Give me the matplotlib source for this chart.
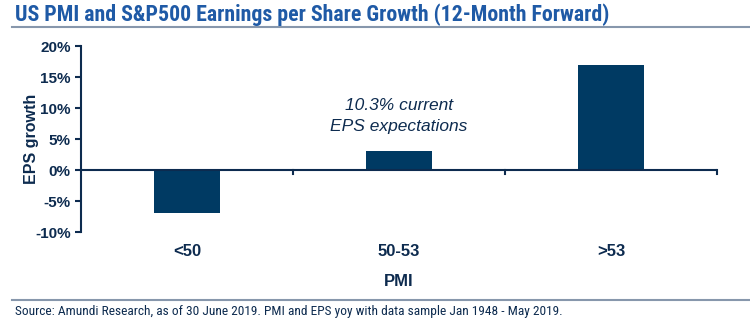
import matplotlib.pyplot as plt
from matplotlib.lines import Line2D
from matplotlib.ticker import FuncFormatter

categories = ['<50', '50-53', '>53']
eps_growth = [-7.0, 3.0, 17.0]
y_ticks = [-10, -5, 0, 5, 10, 15, 20]

navy = '#0d2b4f'
bar_colour = '#003a63'
title_blue = '#1f5aa6'
rule_grey = '#8797ac'
narrow = ['Roboto Condensed', 'DejaVu Sans']

plt.rcParams['font.family'] = ['Liberation Sans', 'DejaVu Sans']

fig = plt.figure(figsize=(7.5, 3.22), dpi=100)
ax = fig.add_axes([0.108, 0.2795, 0.848, 0.5775])

x = range(len(categories))
ax.bar(x, eps_growth, width=0.31, color=bar_colour, zorder=2)

ax.set_xlim(-0.5, 2.5)
ax.set_ylim(-10, 20)
ax.set_yticks(y_ticks)
ax.yaxis.set_major_formatter(FuncFormatter(lambda v, _: f'{v:.0f}%'))

# category names are placed by hand below the zero line
ax.set_xticks([])
for i, name in enumerate(categories):
    ax.text(i, -13.2, name, ha='center', va='center', fontsize=12,
            fontweight='bold', color=navy)
ax.text(1, -18.0, 'PMI', ha='center', va='center', fontsize=12,
        fontweight='bold', color=navy)

for side in ['top', 'right', 'bottom']:
    ax.spines[side].set_visible(False)
ax.spines['left'].set_color(navy)
ax.spines['left'].set_linewidth(1.5)
ax.axhline(0, color=navy, lw=1.5, zorder=3)
# small ticks between the categories
for b in [0.5, 1.5, 2.5]:
    ax.plot([b, b], [0, -0.7], color=navy, lw=1.5, clip_on=False, zorder=3)

ax.tick_params(axis='y', colors=navy, labelsize=11, width=1.5, length=4)
for lab in ax.get_yticklabels():
    lab.set_fontweight('bold')
ax.set_ylabel('EPS growth', fontsize=11.5, fontweight='bold', color=navy,
              labelpad=-3)

ax.text(1, 8.7, '10.3% current\nEPS expectations', ha='center', va='center',
        fontsize=12.5, style='italic', color=navy, linespacing=1.55)

fig.text(0.02, 0.955, 'US PMI and S&P500 Earnings per Share Growth (12-Month Forward)',
         fontsize=15.75, fontweight='bold', color=title_blue, family=narrow,
         va='center')
fig.add_artist(Line2D([0.016, 1.0], [0.915, 0.915], color=rule_grey, lw=1.5))
fig.add_artist(Line2D([0.016, 1.0], [0.068, 0.068], color=rule_grey, lw=1.5))
fig.text(0.02, 0.034, 'Source: Amundi Research, as of 30 June 2019. PMI and EPS yoy '
         'with data sample Jan 1948 - May 2019.', fontsize=9.6, color=navy,
         family=narrow, va='center')

fig.savefig('out.png', dpi=100)
